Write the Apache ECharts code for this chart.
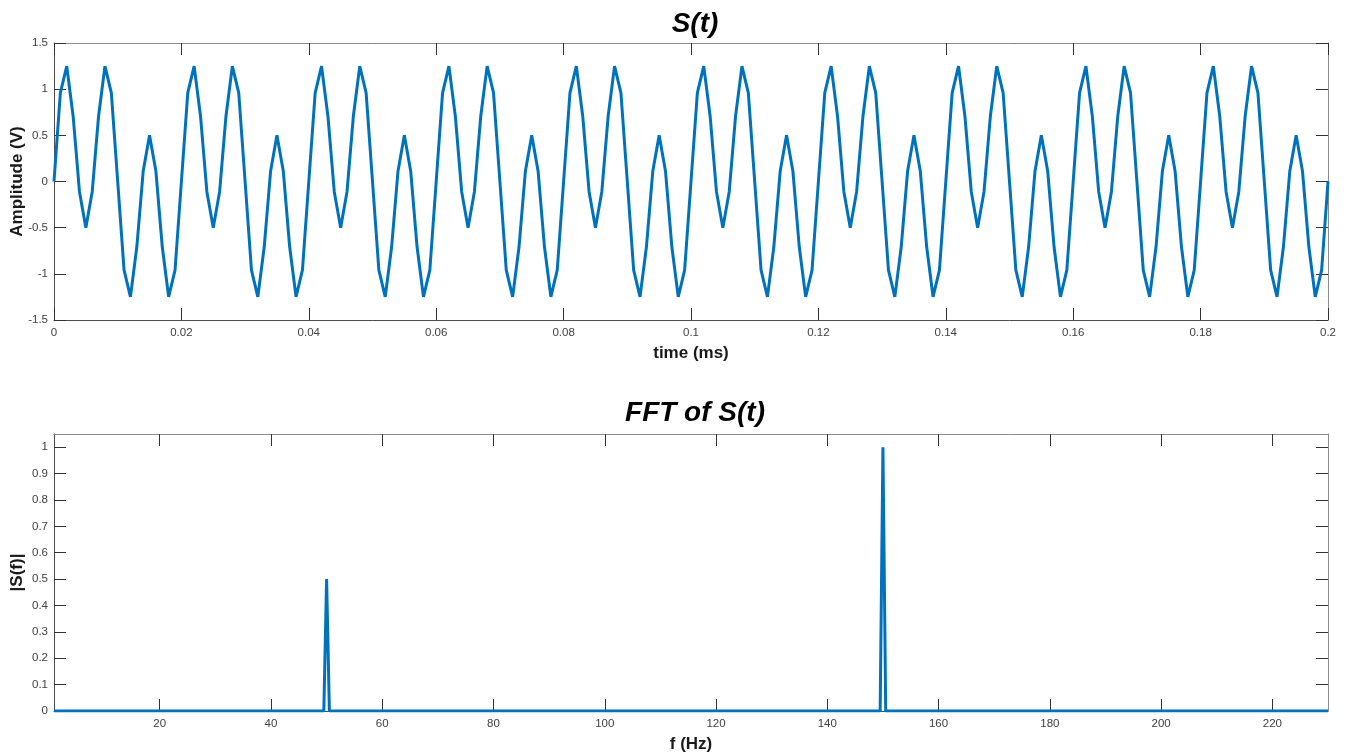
<!DOCTYPE html>
<html>
<head>
<meta charset="utf-8">
<script src="https://cdn.jsdelivr.net/npm/echarts@6/dist/echarts.min.js"></script>
<style>
html,body{margin:0;padding:0;background:#fff;}
#chart{width:1348px;height:754px;}
</style>
</head>
<body>
<div id="chart"></div>
<script>
// ---- data ----
const timeMs = [
0,0.001,0.002,0.003,0.004,0.005,0.006,0.007,0.008,0.009,
0.01,0.011,0.012,0.013,0.014,0.015,0.016,0.017,0.018,0.019,
0.02,0.021,0.022,0.023,0.024,0.025,0.026,0.027,0.028,0.029,
0.03,0.031,0.032,0.033,0.034,0.035,0.036,0.037,0.038,0.039,
0.04,0.041,0.042,0.043,0.044,0.045,0.046,0.047,0.048,0.049,
0.05,0.051,0.052,0.053,0.054,0.055,0.056,0.057,0.058,0.059,
0.06,0.061,0.062,0.063,0.064,0.065,0.066,0.067,0.068,0.069,
0.07,0.071,0.072,0.073,0.074,0.075,0.076,0.077,0.078,0.079,
0.08,0.081,0.082,0.083,0.084,0.085,0.086,0.087,0.088,0.089,
0.09,0.091,0.092,0.093,0.094,0.095,0.096,0.097,0.098,0.099,
0.1,0.101,0.102,0.103,0.104,0.105,0.106,0.107,0.108,0.109,
0.11,0.111,0.112,0.113,0.114,0.115,0.116,0.117,0.118,0.119,
0.12,0.121,0.122,0.123,0.124,0.125,0.126,0.127,0.128,0.129,
0.13,0.131,0.132,0.133,0.134,0.135,0.136,0.137,0.138,0.139,
0.14,0.141,0.142,0.143,0.144,0.145,0.146,0.147,0.148,0.149,
0.15,0.151,0.152,0.153,0.154,0.155,0.156,0.157,0.158,0.159,
0.16,0.161,0.162,0.163,0.164,0.165,0.166,0.167,0.168,0.169,
0.17,0.171,0.172,0.173,0.174,0.175,0.176,0.177,0.178,0.179,
0.18,0.181,0.182,0.183,0.184,0.185,0.186,0.187,0.188,0.189,
0.19,0.191,0.192,0.193,0.194,0.195,0.196,0.197,0.198,0.199,
0.2
];
const amplitudeV = [
0,0.96,1.25,0.71,-0.11,-0.5,-0.11,0.71,1.25,0.96,0,-0.96,-1.25,-0.71,0.11,0.5,0.11,-0.71,-1.25,-0.96,
0,0.96,1.25,0.71,-0.11,-0.5,-0.11,0.71,1.25,0.96,0,-0.96,-1.25,-0.71,0.11,0.5,0.11,-0.71,-1.25,-0.96,
0,0.96,1.25,0.71,-0.11,-0.5,-0.11,0.71,1.25,0.96,0,-0.96,-1.25,-0.71,0.11,0.5,0.11,-0.71,-1.25,-0.96,
0,0.96,1.25,0.71,-0.11,-0.5,-0.11,0.71,1.25,0.96,0,-0.96,-1.25,-0.71,0.11,0.5,0.11,-0.71,-1.25,-0.96,
0,0.96,1.25,0.71,-0.11,-0.5,-0.11,0.71,1.25,0.96,0,-0.96,-1.25,-0.71,0.11,0.5,0.11,-0.71,-1.25,-0.96,
0,0.96,1.25,0.71,-0.11,-0.5,-0.11,0.71,1.25,0.96,0,-0.96,-1.25,-0.71,0.11,0.5,0.11,-0.71,-1.25,-0.96,
0,0.96,1.25,0.71,-0.11,-0.5,-0.11,0.71,1.25,0.96,0,-0.96,-1.25,-0.71,0.11,0.5,0.11,-0.71,-1.25,-0.96,
0,0.96,1.25,0.71,-0.11,-0.5,-0.11,0.71,1.25,0.96,0,-0.96,-1.25,-0.71,0.11,0.5,0.11,-0.71,-1.25,-0.96,
0,0.96,1.25,0.71,-0.11,-0.5,-0.11,0.71,1.25,0.96,0,-0.96,-1.25,-0.71,0.11,0.5,0.11,-0.71,-1.25,-0.96,
0,0.96,1.25,0.71,-0.11,-0.5,-0.11,0.71,1.25,0.96,0,-0.96,-1.25,-0.71,0.11,0.5,0.11,-0.71,-1.25,-0.96,
0
];
const freqHz = [1, 49.5, 50, 50.5, 149.5, 150, 150.5, 230];
const magnitude = [0, 0, 0.5, 0, 0, 1, 0, 0];

const timeTicks = [0,0.02,0.04,0.06,0.08,0.1,0.12,0.14,0.16,0.18,0.2];
const ampTicks = [-1.5,-1,-0.5,0,0.5,1,1.5];
const freqTicks = [20,40,60,80,100,120,140,160,180,200,220];
const magTicks = [0,0.1,0.2,0.3,0.4,0.5,0.6,0.7,0.8,0.9,1];

// ---- styling ----
const FONT = 'Liberation Sans, Arial, sans-serif';
const LINE_COLOR = '#0072BD';
const TICK_COLOR = '#333333';
const AXIS_MAIN = '#4d4d4d';
const AXIS_BOX = '#8c8c8c';
const LABEL_COLOR = '#404040';

function mainX(grid, min, max, ticks, name) {
  return {
    type: 'value', gridIndex: grid, position: 'bottom', min: min, max: max,
    name: name, nameLocation: 'middle', nameGap: 25, nameMoveOverlap: false,
    nameTextStyle: {fontFamily: FONT, fontWeight: 'bold', fontSize: 17, color: '#1a1a1a'},
    axisLine: {show: true, onZero: false, lineStyle: {color: AXIS_MAIN, width: 1}},
    axisTick: {show: true, inside: true, length: 12, customValues: ticks, lineStyle: {color: TICK_COLOR}},
    axisLabel: {show: true, customValues: ticks, margin: 7, fontFamily: FONT, fontSize: 11.5, color: LABEL_COLOR, showMinLabel: true, showMaxLabel: true},
    splitLine: {show: false}
  };
}
function boxX(grid, min, max, ticks) {
  return {
    type: 'value', gridIndex: grid, position: 'top', min: min, max: max,
    axisLine: {show: true, onZero: false, lineStyle: {color: AXIS_BOX, width: 1}},
    axisTick: {show: true, inside: true, length: 12, customValues: ticks, lineStyle: {color: TICK_COLOR}},
    axisLabel: {show: false},
    splitLine: {show: false}
  };
}
function mainY(grid, min, max, ticks, name) {
  return {
    type: 'value', gridIndex: grid, position: 'left', min: min, max: max,
    name: name, nameLocation: 'middle', nameGap: 28, nameRotate: 90, nameMoveOverlap: false,
    nameTextStyle: {fontFamily: FONT, fontWeight: 'bold', fontSize: 17, color: '#1a1a1a'},
    axisLine: {show: true, onZero: false, lineStyle: {color: AXIS_MAIN, width: 1}},
    axisTick: {show: true, inside: true, length: 12, customValues: ticks, lineStyle: {color: TICK_COLOR}},
    axisLabel: {show: true, customValues: ticks, margin: 6, fontFamily: FONT, fontSize: 11.5, color: LABEL_COLOR, showMinLabel: true, showMaxLabel: true},
    splitLine: {show: false}
  };
}
function boxY(grid, min, max, ticks) {
  return {
    type: 'value', gridIndex: grid, position: 'right', min: min, max: max,
    axisLine: {show: true, onZero: false, lineStyle: {color: AXIS_BOX, width: 1}},
    axisTick: {show: true, inside: true, length: 12, customValues: ticks, lineStyle: {color: TICK_COLOR}},
    axisLabel: {show: false},
    splitLine: {show: false}
  };
}

const titleStyle = {fontFamily: FONT, fontWeight: 'bold', fontStyle: 'italic', fontSize: 28, color: '#000'};

const option = {
  animation: false,
  backgroundColor: '#ffffff',
  title: [
    {text: 'S(t)', left: 695, top: 10, textAlign: 'center', padding: 0, textStyle: titleStyle},
    {text: 'FFT of S(t)', left: 695, top: 399, textAlign: 'center', padding: 0, textStyle: titleStyle}
  ],
  grid: [
    {left: 54, top: 43, width: 1274, height: 277, containLabel: false, outerBoundsMode: 'none'},
    {left: 54, top: 434, width: 1274, height: 277, containLabel: false, outerBoundsMode: 'none'}
  ],
  xAxis: [
    mainX(0, 0, 0.2, timeTicks, 'time (ms)'),
    boxX(0, 0, 0.2, timeTicks),
    mainX(1, 1, 230, freqTicks, 'f (Hz)'),
    boxX(1, 1, 230, freqTicks)
  ],
  yAxis: [
    mainY(0, -1.5, 1.5, ampTicks, 'Amplitude (V)'),
    boxY(0, -1.5, 1.5, ampTicks),
    mainY(1, 0, 1.05, magTicks, '|S(f)|'),
    boxY(1, 0, 1.05, magTicks)
  ],
  series: [
    {
      type: 'line', xAxisIndex: 0, yAxisIndex: 0, symbol: 'none', showSymbol: false,
      lineStyle: {color: LINE_COLOR, width: 3}, itemStyle: {color: LINE_COLOR},
      data: timeMs.map((t, i) => [t, amplitudeV[i]])
    },
    {
      type: 'line', xAxisIndex: 2, yAxisIndex: 2, symbol: 'none', showSymbol: false,
      lineStyle: {color: LINE_COLOR, width: 3}, itemStyle: {color: LINE_COLOR},
      data: freqHz.map((f, i) => [f, magnitude[i]])
    }
  ]
};

const chart = echarts.init(document.getElementById('chart'), null, {renderer: 'canvas'});
chart.setOption(option);
</script>
</body>
</html>
